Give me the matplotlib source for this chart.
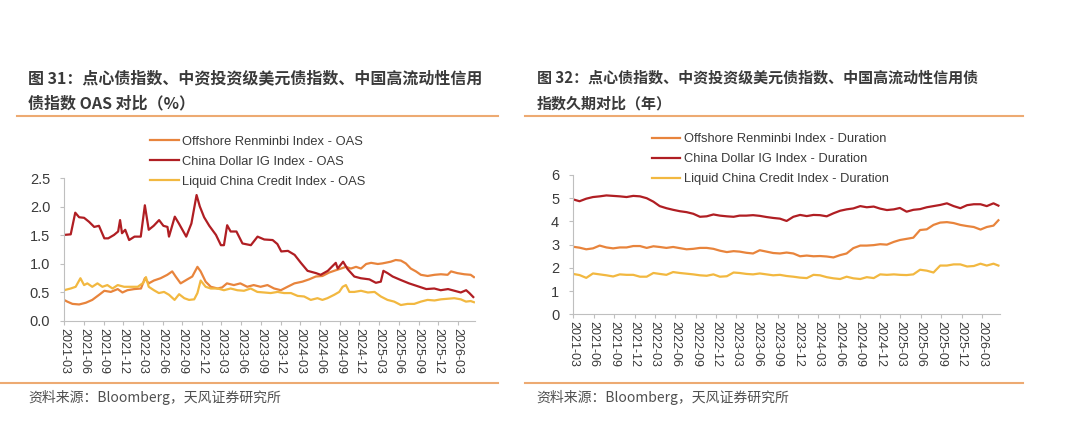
import pandas as pd
import matplotlib.pyplot as plt
import matplotlib.dates as mdates
from matplotlib.lines import Line2D

plt.rcParams['font.family'] = ['Liberation Sans', 'Noto Sans CJK SC', 'DejaVu Sans']


# OAS (%) - left chart

cny_oas_dates = [
    "2021-03-01", "2021-03-16", "2021-04-09", "2021-05-10", "2021-06-10", "2021-07-10",
    "2021-08-11", "2021-09-04", "2021-10-04", "2021-11-05", "2021-11-27", "2021-12-20",
    "2022-01-21", "2022-02-21", "2022-03-11", "2022-03-29", "2022-04-22", "2022-05-23",
    "2022-06-23", "2022-07-16", "2022-08-01", "2022-08-24", "2022-09-24", "2022-10-17",
    "2022-11-10", "2022-11-25", "2022-12-18", "2023-01-11", "2023-02-12", "2023-03-05",
    "2023-03-27", "2023-04-28", "2023-05-28", "2023-06-29", "2023-07-29", "2023-08-30",
    "2023-10-01", "2023-11-01", "2023-12-02", "2024-01-02", "2024-02-03", "2024-03-11",
    "2024-04-11", "2024-05-12", "2024-06-12", "2024-07-13", "2024-08-13", "2024-09-06",
    "2024-09-29", "2024-10-22", "2024-11-15", "2024-12-08", "2025-01-01", "2025-01-24",
    "2025-02-24", "2025-03-17", "2025-04-25", "2025-05-18", "2025-06-11", "2025-07-04",
    "2025-07-27", "2025-08-20", "2025-09-12", "2025-10-13", "2025-11-14", "2025-12-14",
    "2026-01-14", "2026-01-30", "2026-02-28", "2026-04-01", "2026-05-01", "2026-05-16",
]
cny_oas = [
    0.37, 0.34, 0.30, 0.29, 0.32, 0.37,
    0.46, 0.53, 0.51, 0.56, 0.50, 0.54,
    0.56, 0.57, 0.75, 0.66, 0.71, 0.75,
    0.81, 0.87, 0.78, 0.66, 0.73, 0.78,
    0.95, 0.87, 0.69, 0.60, 0.57, 0.59,
    0.66, 0.63, 0.66, 0.60, 0.63, 0.60,
    0.63, 0.57, 0.54, 0.60, 0.66, 0.69,
    0.73, 0.78, 0.79, 0.85, 0.89, 0.92,
    0.95, 0.92, 0.95, 0.92, 1.00, 1.02,
    1.00, 1.01, 1.04, 1.07, 1.06, 1.01,
    0.92, 0.87, 0.81, 0.79, 0.81, 0.82,
    0.81, 0.87, 0.84, 0.82, 0.81, 0.77,
]

usd_ig_oas_dates = [
    "2021-03-01", "2021-04-01", "2021-04-22", "2021-05-10", "2021-06-02", "2021-06-25",
    "2021-07-19", "2021-08-10", "2021-09-04", "2021-09-22", "2021-10-19", "2021-11-07",
    "2021-11-16", "2021-11-25", "2021-12-10", "2021-12-28", "2022-01-22", "2022-02-20",
    "2022-03-11", "2022-03-29", "2022-04-21", "2022-05-16", "2022-06-05", "2022-06-24",
    "2022-07-01", "2022-07-28", "2022-08-16", "2022-09-19", "2022-10-13", "2022-11-06",
    "2022-11-21", "2022-12-11", "2023-01-04", "2023-02-04", "2023-02-27", "2023-03-13",
    "2023-03-28", "2023-04-13", "2023-05-10", "2023-06-07", "2023-07-16", "2023-08-16",
    "2023-09-16", "2023-10-25", "2023-11-16", "2023-12-04", "2024-01-04", "2024-02-04",
    "2024-03-04", "2024-04-04", "2024-05-13", "2024-06-04", "2024-07-07", "2024-07-28",
    "2024-08-13", "2024-08-22", "2024-09-16", "2024-10-07", "2024-11-07", "2024-12-07",
    "2025-01-16", "2025-02-15", "2025-03-10", "2025-03-22", "2025-04-10", "2025-05-04",
    "2025-06-10", "2025-07-19", "2025-08-28", "2025-10-07", "2025-11-13", "2025-12-13",
    "2026-01-16", "2026-02-15", "2026-03-16", "2026-04-10", "2026-04-25", "2026-05-13",
]
usd_ig_oas = [
    1.51, 1.52, 1.90, 1.82, 1.81, 1.74,
    1.65, 1.67, 1.45, 1.45, 1.51, 1.57,
    1.77, 1.54, 1.60, 1.42, 1.48, 1.48,
    2.03, 1.60, 1.67, 1.77, 1.67, 1.65,
    1.48, 1.83, 1.71, 1.48, 1.71, 2.21,
    2.01, 1.82, 1.67, 1.51, 1.33, 1.33,
    1.68, 1.57, 1.57, 1.36, 1.33, 1.48,
    1.43, 1.42, 1.35, 1.22, 1.23, 1.16,
    1.02, 0.88, 0.84, 0.81, 0.88, 0.96,
    1.02, 0.92, 1.04, 0.91, 0.78, 0.75,
    0.73, 0.67, 0.69, 0.88, 0.84, 0.78,
    0.72, 0.66, 0.61, 0.56, 0.57, 0.54,
    0.56, 0.53, 0.50, 0.54, 0.49, 0.42,
]

liquid_oas_dates = [
    "2021-03-01", "2021-04-01", "2021-04-24", "2021-05-16", "2021-06-02", "2021-06-17",
    "2021-07-10", "2021-08-03", "2021-08-26", "2021-09-18", "2021-10-12", "2021-11-05",
    "2021-12-05", "2022-01-06", "2022-02-06", "2022-03-04", "2022-03-16", "2022-03-29",
    "2022-04-22", "2022-05-15", "2022-06-08", "2022-07-01", "2022-07-27", "2022-08-17",
    "2022-09-10", "2022-10-02", "2022-10-26", "2022-11-10", "2022-11-25", "2022-12-18",
    "2023-01-11", "2023-02-12", "2023-03-13", "2023-04-13", "2023-05-14", "2023-06-14",
    "2023-07-15", "2023-08-15", "2023-09-16", "2023-10-16", "2023-11-17", "2023-12-17",
    "2024-01-18", "2024-02-18", "2024-03-19", "2024-04-19", "2024-05-20", "2024-06-12",
    "2024-07-05", "2024-08-06", "2024-08-29", "2024-09-14", "2024-09-29", "2024-10-15",
    "2024-11-07", "2024-12-08", "2025-01-09", "2025-02-09", "2025-03-10", "2025-04-10",
    "2025-05-11", "2025-06-11", "2025-07-12", "2025-08-12", "2025-09-12", "2025-10-13",
    "2025-11-14", "2025-12-14", "2026-01-14", "2026-02-14", "2026-03-16", "2026-04-09",
    "2026-05-01", "2026-05-16",
]
liquid_oas = [
    0.54, 0.57, 0.60, 0.75, 0.63, 0.66,
    0.60, 0.66, 0.60, 0.63, 0.57, 0.63,
    0.60, 0.60, 0.60, 0.67, 0.77, 0.60,
    0.54, 0.49, 0.51, 0.46, 0.37, 0.47,
    0.40, 0.37, 0.38, 0.49, 0.71, 0.60,
    0.57, 0.57, 0.54, 0.57, 0.54, 0.53,
    0.57, 0.51, 0.50, 0.49, 0.51, 0.49,
    0.49, 0.44, 0.43, 0.37, 0.40, 0.37,
    0.40, 0.46, 0.51, 0.60, 0.63, 0.51,
    0.51, 0.53, 0.50, 0.51, 0.43, 0.37,
    0.34, 0.28, 0.30, 0.30, 0.34, 0.37,
    0.36, 0.38, 0.39, 0.40, 0.38, 0.34,
    0.35, 0.33,
]


# duration (years) - right chart

dur_dates = [
    "2021-03-01", "2021-03-30", "2021-04-29", "2021-05-29", "2021-06-28", "2021-07-28",
    "2021-08-27", "2021-09-26", "2021-10-26", "2021-11-25", "2021-12-25", "2022-01-24",
    "2022-02-23", "2022-03-23", "2022-04-22", "2022-05-22", "2022-06-21", "2022-07-21",
    "2022-08-20", "2022-09-19", "2022-10-19", "2022-11-18", "2022-12-17", "2023-01-17",
    "2023-02-16", "2023-03-15", "2023-04-14", "2023-05-14", "2023-06-13", "2023-07-13",
    "2023-08-12", "2023-09-11", "2023-10-11", "2023-11-10", "2023-12-10", "2024-01-09",
    "2024-02-08", "2024-03-08", "2024-04-07", "2024-05-07", "2024-06-06", "2024-07-05",
    "2024-08-04", "2024-09-04", "2024-10-03", "2024-11-03", "2024-12-02", "2025-01-01",
    "2025-02-01", "2025-02-28", "2025-03-30", "2025-04-29", "2025-05-29", "2025-06-28",
    "2025-07-28", "2025-08-27", "2025-09-26", "2025-10-26", "2025-11-25", "2025-12-25",
    "2026-01-24", "2026-02-23", "2026-03-23", "2026-04-22", "2026-05-14",
]
cny_dur = [
    2.91, 2.87, 2.80, 2.84, 2.96, 2.88,
    2.84, 2.88, 2.88, 2.94, 2.94, 2.86,
    2.93, 2.90, 2.86, 2.90, 2.85, 2.80,
    2.82, 2.86, 2.86, 2.82, 2.74, 2.68,
    2.72, 2.70, 2.65, 2.62, 2.76, 2.70,
    2.64, 2.62, 2.66, 2.62, 2.50, 2.53,
    2.50, 2.51, 2.49, 2.45, 2.55, 2.62,
    2.85, 2.96, 2.96, 2.98, 3.02, 3.00,
    3.12, 3.20, 3.25, 3.30, 3.63, 3.66,
    3.85, 3.95, 3.97, 3.93, 3.85, 3.80,
    3.76, 3.65, 3.76, 3.82, 4.05,
]
usd_ig_dur = [
    4.95, 4.87, 4.98, 5.05, 5.08, 5.12,
    5.10, 5.08, 5.05, 5.10, 5.08, 5.00,
    4.85, 4.66, 4.57, 4.50, 4.44, 4.40,
    4.33, 4.20, 4.22, 4.30, 4.25, 4.22,
    4.20, 4.25, 4.25, 4.27, 4.24, 4.19,
    4.15, 4.12, 4.02, 4.20, 4.28, 4.23,
    4.28, 4.27, 4.22, 4.35, 4.46, 4.52,
    4.56, 4.66, 4.61, 4.64, 4.55, 4.49,
    4.52, 4.58, 4.42, 4.50, 4.53, 4.61,
    4.66, 4.71, 4.78, 4.66, 4.57, 4.70,
    4.74, 4.74, 4.66, 4.78, 4.68,
]
liquid_dur = [
    1.74, 1.69, 1.57, 1.76, 1.72, 1.68,
    1.63, 1.72, 1.70, 1.70, 1.62, 1.62,
    1.78, 1.74, 1.70, 1.82, 1.78, 1.75,
    1.72, 1.68, 1.66, 1.72, 1.62, 1.64,
    1.80, 1.78, 1.74, 1.72, 1.76, 1.72,
    1.68, 1.70, 1.65, 1.62, 1.58, 1.56,
    1.70, 1.68, 1.60, 1.55, 1.52, 1.62,
    1.55, 1.52, 1.60, 1.56, 1.72, 1.70,
    1.72, 1.70, 1.69, 1.72, 1.92, 1.88,
    1.80, 2.10, 2.10, 2.15, 2.15, 2.06,
    2.08, 2.18, 2.10, 2.18, 2.10,
]

oas_labels = [
    "Offshore Renminbi Index - OAS",
    "China Dollar IG Index - OAS",
    "Liquid China Credit Index - OAS",
]
dur_labels = [
    "Offshore Renminbi Index - Duration",
    "China Dollar IG Index - Duration",
    "Liquid China Credit Index - Duration",
]

title_left = ["图 31：点心债指数、中资投资级美元债指数、中国高流动性信用",
              "债指数 OAS 对比（%）"]
title_right = ["图 32：点心债指数、中资投资级美元债指数、中国高流动性信用债",
               "指数久期对比（年）"]
source_text = "资料来源：Bloomberg，天风证券研究所"


# styles

colors = ["#E8843C", "#B01E23", "#F2B840"]
rule_color = "#EDAA72"
text_color = "#3A3A3A"
spine_color = "#BFBFBF"
cjk = ['Noto Sans CJK SC', 'DejaVu Sans']


fig = plt.figure(figsize=(10.8, 4.48), dpi=100)

ax1 = fig.add_axes([0.0593, 0.2835, 0.3805, 0.3181])
ax2 = fig.add_axes([0.5306, 0.2984, 0.3953, 0.3110])


def style_axis(ax, xmax):
    for side in ["top", "right"]:
        ax.spines[side].set_visible(False)
    for side in ["left", "bottom"]:
        ax.spines[side].set_color(spine_color)
        ax.spines[side].set_linewidth(0.8)
    ax.xaxis.set_major_locator(mdates.MonthLocator(bymonth=[3, 6, 9, 12]))
    ax.xaxis.set_major_formatter(mdates.DateFormatter("%Y-%m"))
    ax.set_xlim(pd.Timestamp("2021-03-01"), pd.Timestamp(xmax))
    ax.tick_params(axis="x", rotation=270, labelsize=9, colors=spine_color,
                   labelcolor=text_color, length=3, pad=2)
    ax.tick_params(axis="y", labelsize=10.5, colors=spine_color,
                   labelcolor=text_color, length=3, pad=7)
    for lbl in ax.get_xticklabels():
        lbl.set_va("top")
        lbl.set_ha("center")


# left chart

ax1.plot(pd.to_datetime(cny_oas_dates), cny_oas, color=colors[0], linewidth=1.6)
ax1.plot(pd.to_datetime(usd_ig_oas_dates), usd_ig_oas, color=colors[1], linewidth=1.6)
ax1.plot(pd.to_datetime(liquid_oas_dates), liquid_oas, color=colors[2], linewidth=1.6)
ax1.set_ylim(0, 2.5)
ax1.set_yticks([0, 0.5, 1.0, 1.5, 2.0, 2.5])
ax1.set_yticklabels(["0.0", "0.5", "1.0", "1.5", "2.0", "2.5"])
style_axis(ax1, "2026-05-21")


# right chart

dur_x = pd.to_datetime(dur_dates)
ax2.plot(dur_x, cny_dur, color=colors[0], linewidth=1.6)
ax2.plot(dur_x, usd_ig_dur, color=colors[1], linewidth=1.6)
ax2.plot(dur_x, liquid_dur, color=colors[2], linewidth=1.6)
ax2.set_ylim(0, 6)
ax2.set_yticks(range(0, 7))
style_axis(ax2, "2026-05-21")


# legends

def add_legend(labels, x, y):
    handles = [Line2D([], [], color=c, linewidth=1.6) for c in colors]
    fig.legend(handles, labels, loc="upper left", bbox_to_anchor=(x, y),
               frameon=False, fontsize=9.3, handlelength=2.2, handletextpad=0.25,
               labelspacing=0.62, borderpad=0, borderaxespad=0,
               labelcolor=text_color)


add_legend(oas_labels, 0.139, 0.697)
add_legend(dur_labels, 0.6037, 0.703)


# titles, rules and source

for title, x, size in [(title_left, 0.026, 11.5), (title_right, 0.497, 10.8)]:
    fig.text(x, 0.826, title[0], fontsize=size, fontweight="bold",
             color=text_color, va="center", family=cjk)
    fig.text(x, 0.770, title[1], fontsize=size, fontweight="bold",
             color=text_color, va="center", family=cjk)
    fig.text(x, 0.112, source_text, fontsize=10, color="#505050",
             va="center", family=cjk)

fig.add_artist(Line2D([0.016, 0.461], [0.741, 0.741], color=rule_color, linewidth=1.5))
fig.add_artist(Line2D([0.486, 0.947], [0.741, 0.741], color=rule_color, linewidth=1.5))
fig.add_artist(Line2D([0.0, 0.461], [0.145, 0.145], color=rule_color, linewidth=1.5))
fig.add_artist(Line2D([0.486, 0.947], [0.145, 0.145], color=rule_color, linewidth=1.5))

fig.savefig("out.png", dpi=100, facecolor="white")
